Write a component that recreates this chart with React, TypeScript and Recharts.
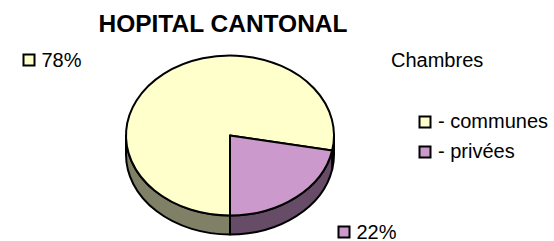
import React from 'react';
import { PieChart, Pie, Legend } from 'recharts';

const TITLE = 'HOPITAL CANTONAL';
const LEGEND_TITLE = 'Chambres';
const CATEGORIES = ['- communes', '- privées'];
const VALUES = [78, 22];
const COLORS = ['#FFFFCC', '#CC99CC'];
const SIDE_COLORS = ['#808066', '#664C66'];

const W = 554;
const H = 241;
const FONT = '"Liberation Sans", Arial, sans-serif';

// pie is drawn as a tilted disc: vertical squash + wall depth
const TILT = 80 / 104;
const DEPTH = 19;

// where the little data labels sit (square top-left)
const LABEL_POS = [
  { x: 23.5, y: 54.5 },
  { x: 338.5, y: 226.5 },
];

const data = CATEGORIES.map((name, i) => ({ name, value: VALUES[i], fill: COLORS[i] }));

const rad = (a: number) => (a * Math.PI) / 180;

const Sector3D = (props: any) => {
  const { cx, cy, outerRadius: r, startAngle, endAngle, index } = props;
  const ry = r * TILT;
  const pt = (a: number, dy = 0) => [cx + r * Math.cos(rad(a)), cy - ry * Math.sin(rad(a)) + dy];
  const [sx, sy] = pt(startAngle);
  const [ex, ey] = pt(endAngle);
  const large = Math.abs(endAngle - startAngle) > 180 ? 1 : 0;
  const sweep = startAngle > endAngle ? 1 : 0;
  const top = `M${cx},${cy} L${sx},${sy} A${r},${ry} 0 ${large} ${sweep} ${ex},${ey} Z`;

  // front wall = part of the sector in the lower half of the disc
  const lo = Math.min(startAngle, endAngle);
  const hi = Math.max(startAngle, endAngle);
  const walls: string[] = [];
  for (let n = -2; n <= 2; n++) {
    const a = Math.max(lo, 180 + 360 * n);
    const b = Math.min(hi, 360 + 360 * n);
    if (b - a > 0.01) {
      const [ax, ay] = pt(a);
      const [bx, by] = pt(b);
      const [bx2, by2] = pt(b, DEPTH);
      const [ax2, ay2] = pt(a, DEPTH);
      walls.push(
        `M${ax},${ay} A${r},${ry} 0 0 0 ${bx},${by} L${bx2},${by2} A${r},${ry} 0 0 1 ${ax2},${ay2} Z`
      );
    }
  }

  return (
    <g>
      {walls.map((d, i) => (
        <path key={i} d={d} fill={SIDE_COLORS[index]} stroke="#000" strokeWidth={2} strokeLinejoin="round" />
      ))}
      <path d={top} fill={COLORS[index]} stroke="#000" strokeWidth={2} strokeLinejoin="round" />
    </g>
  );
};

const renderLabel = (props: any) => {
  const { percent, index } = props;
  const p = LABEL_POS[index];
  return (
    <g key={`lbl-${index}`}>
      <rect x={p.x} y={p.y} width={11} height={11} fill={COLORS[index]} stroke="#000" strokeWidth={2} />
      <text x={p.x + 18} y={p.y + 12} fontFamily={FONT} fontSize={20} fill="#000">
        {`${Math.round(percent * 100)}%`}
      </text>
    </g>
  );
};

const LegendBox = (props: any) => {
  const items = props.payload || [];
  return (
    <svg width={164} height={H} style={{ display: 'block' }}>
      <text x={1} y={67} fontFamily={FONT} fontSize={20} fill="#000">
        {LEGEND_TITLE}
      </text>
      {items.map((it: any, i: number) => (
        <g key={i}>
          <rect x={29.5} y={116.5 + i * 30} width={11} height={11} fill={COLORS[i]} stroke="#000" strokeWidth={2} />
          <text x={48} y={128 + i * 29.5} fontFamily={FONT} fontSize={20} fill="#000">
            {it.value}
          </text>
        </g>
      ))}
    </svg>
  );
};

export default function App() {
  return (
    <div style={{ position: 'absolute', left: 0, top: 0, width: W, height: H, background: '#fff' }}>
      <PieChart width={W} height={H} margin={{ top: 0, right: 0, bottom: 0, left: 0 }}>
        <Pie
          data={data}
          dataKey="value"
          nameKey="name"
          cx={230}
          cy={135.5}
          outerRadius={104}
          startAngle={270}
          endAngle={-90}
          shape={Sector3D}
          label={renderLabel}
          labelLine={false}
          isAnimationActive={false}
        />
        <Legend
          content={LegendBox}
          wrapperStyle={{ position: 'absolute', left: 390, top: 0, width: 164, height: H }}
        />
      </PieChart>
      <svg
        width={W}
        height={H}
        style={{ position: 'absolute', left: 0, top: 0, pointerEvents: 'none' }}
      >
        <text x={223} y={32} textAnchor="middle" fontFamily={FONT} fontSize={24.5} fontWeight="bold" fill="#000">
          {TITLE}
        </text>
      </svg>
    </div>
  );
}
